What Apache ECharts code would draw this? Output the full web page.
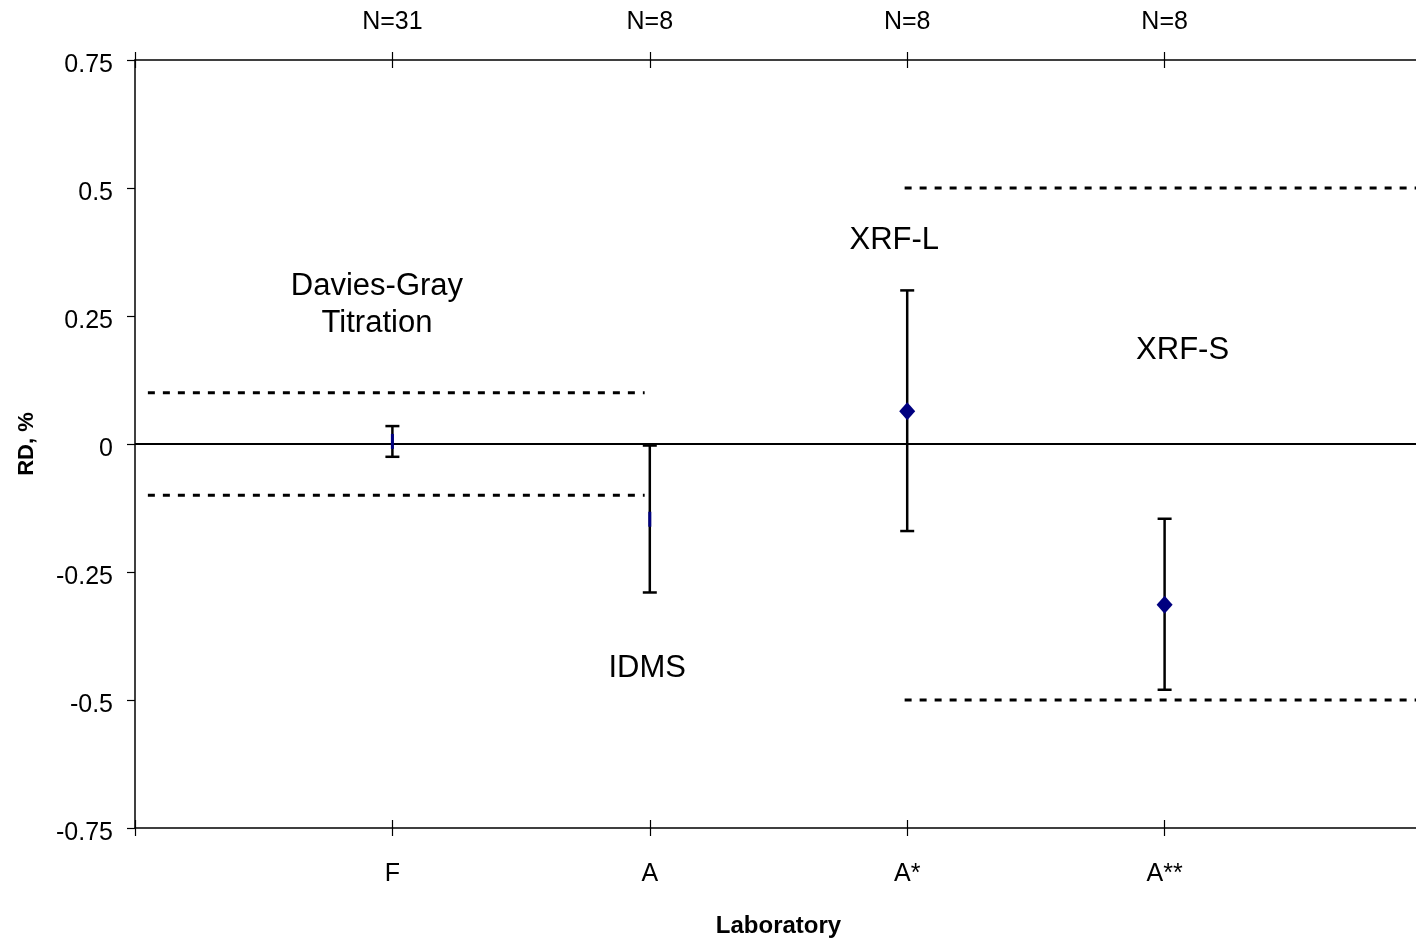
<!DOCTYPE html>
<html>
<head>
<meta charset="utf-8">
<title>RD by laboratory</title>
<script src="https://cdn.jsdelivr.net/npm/echarts@6/dist/echarts.min.js"></script>
<style>
  html, body { margin: 0; padding: 0; background: #ffffff; overflow: hidden; }
  #frame { width: 1416px; height: 943px; overflow: hidden; position: relative; }
  /* the plot runs a little past the right edge of the frame */
  #chart { width: 1425px; height: 943px; position: absolute; left: 0; top: 0; }
</style>
</head>
<body>
<div id="frame"><div id="chart"></div></div>
<script>
// Laboratories, their position on the x scale and the number of results behind each
const labs = ['F', 'A', 'A*', 'A**'];
const labPos = [1, 2, 3, 4];
const counts = ['N=31', 'N=8', 'N=8', 'N=8'];

// Mean relative difference (%) and the ends of its uncertainty bar
const meanRD = [0.005, -0.147, 0.064, -0.314];
const barLow = [-0.025, -0.29, -0.17, -0.48];
const barHigh = [0.035, -0.003, 0.30, -0.146];

// Acceptance limits (%) drawn as dashed lines over a span of the x scale
const limitTight = 0.1;
const limitTightSpan = [0.05, 1.98];
const limitWide = 0.5;
const limitWideSpan = [2.99, 5];

// Method names placed in data coordinates
const methodNames = ['Davies-Gray\nTitration', 'IDMS', 'XRF-L', 'XRF-S'];
const methodAt = [[0.94, 0.272], [1.99, -0.439], [2.95, 0.398], [4.07, 0.182]];

// Y scale ticks
const yMin = -0.75, yMax = 0.75, yStep = 0.25;

const FONT = "'Liberation Sans', Arial, Helvetica, sans-serif";

const chart = echarts.init(document.getElementById('chart'), null, { renderer: 'canvas' });

function labName(v) {
  const i = labPos.indexOf(Math.round(v));
  return i >= 0 && Math.abs(v - labPos[i]) < 1e-6 ? labs[i] : '';
}
function labCount(v) {
  const i = labPos.indexOf(Math.round(v));
  return i >= 0 && Math.abs(v - labPos[i]) < 1e-6 ? counts[i] : '';
}

const axisBase = {
  type: 'value', min: 0, max: 5, interval: 1,
  splitLine: { show: false }
};

const lineStyleAxis = { color: '#000', width: 1.5 };
const tickStyle = { color: '#000', width: 1.2 };
const dashed = { color: '#000', width: 3, type: [7, 8] };

chart.setOption({
  animation: false,
  backgroundColor: '#ffffff',
  grid: { left: 135, right: 0, top: 60, bottom: 113, containLabel: false },
  xAxis: [
    Object.assign({}, axisBase, {
      position: 'bottom',
      axisLine: { show: true, onZero: false, lineStyle: lineStyleAxis },
      axisTick: { show: true, inside: false, length: 8, lineStyle: tickStyle },
      axisLabel: { show: true, margin: 34, color: '#000', fontFamily: FONT, fontSize: 25, formatter: labName },
      name: 'Laboratory', nameLocation: 'middle', nameGap: 86,
      nameTextStyle: { color: '#000', fontFamily: FONT, fontSize: 24, fontWeight: 'bold' }
    }),
    Object.assign({}, axisBase, {
      position: 'bottom',
      axisLine: { show: false, onZero: false },
      axisTick: { show: true, inside: true, length: 8, lineStyle: tickStyle },
      axisLabel: { show: false }
    }),
    Object.assign({}, axisBase, {
      position: 'top',
      axisLine: { show: true, onZero: false, lineStyle: lineStyleAxis },
      axisTick: { show: true, inside: false, length: 8, lineStyle: tickStyle },
      axisLabel: { show: true, margin: 25, color: '#000', fontFamily: FONT, fontSize: 25, formatter: labCount }
    }),
    Object.assign({}, axisBase, {
      position: 'top',
      axisLine: { show: false, onZero: false },
      axisTick: { show: true, inside: true, length: 8, lineStyle: tickStyle },
      axisLabel: { show: false }
    })
  ],
  yAxis: {
    type: 'value', min: yMin, max: yMax, interval: yStep,
    axisLine: { show: true, onZero: false, lineStyle: lineStyleAxis },
    axisTick: { show: true, inside: false, length: 8, lineStyle: tickStyle },
    axisLabel: {
      show: true, margin: 22, color: '#000', fontFamily: FONT, fontSize: 25,
      verticalAlign: 'top', lineHeight: 10
    },
    splitLine: { show: false },
    name: 'RD, %', nameLocation: 'middle', nameGap: 97, nameRotate: 90,
    nameTextStyle: { color: '#000', fontFamily: FONT, fontSize: 22, fontWeight: 'bold' }
  },
  series: [
    // zero reference
    {
      type: 'line', xAxisIndex: 0, symbol: 'none', silent: true,
      lineStyle: { color: '#000', width: 2.2 },
      data: [[0, 0], [5, 0]], z: 2
    },
    // tight limits
    {
      type: 'line', xAxisIndex: 0, symbol: 'none', silent: true, lineStyle: dashed, z: 2,
      data: [[limitTightSpan[0], limitTight], [limitTightSpan[1], limitTight]]
    },
    {
      type: 'line', xAxisIndex: 0, symbol: 'none', silent: true, lineStyle: dashed, z: 2,
      data: [[limitTightSpan[0], -limitTight], [limitTightSpan[1], -limitTight]]
    },
    // wide limits
    {
      type: 'line', xAxisIndex: 0, symbol: 'none', silent: true, lineStyle: dashed, z: 2,
      data: [[limitWideSpan[0], limitWide], [limitWideSpan[1], limitWide]]
    },
    {
      type: 'line', xAxisIndex: 0, symbol: 'none', silent: true, lineStyle: dashed, z: 2,
      data: [[limitWideSpan[0], -limitWide], [limitWideSpan[1], -limitWide]]
    },
    // uncertainty bars
    {
      type: 'custom', xAxisIndex: 0, silent: true, z: 3,
      data: labPos.map((x, i) => [x, barLow[i], barHigh[i]]),
      encode: { x: 0, y: [1, 2] },
      renderItem: function (params, api) {
        const lo = api.coord([api.value(0), api.value(1)]);
        const hi = api.coord([api.value(0), api.value(2)]);
        const half = 7;
        const style = { stroke: '#000', lineWidth: 2.5 };
        return {
          type: 'group',
          children: [
            { type: 'line', shape: { x1: lo[0], y1: lo[1], x2: hi[0], y2: hi[1] }, style: style },
            { type: 'line', shape: { x1: lo[0] - half, y1: lo[1], x2: lo[0] + half, y2: lo[1] }, style: style },
            { type: 'line', shape: { x1: hi[0] - half, y1: hi[1], x2: hi[0] + half, y2: hi[1] }, style: style }
          ]
        };
      }
    },
    // means
    {
      type: 'scatter', xAxisIndex: 0, silent: true, z: 4,
      itemStyle: { color: '#000080', opacity: 1 },
      data: labPos.map((x, i) => {
        const narrow = Math.abs(barHigh[i] - barLow[i]) < 0.3;
        return narrow
          ? { value: [x, meanRD[i]], symbol: 'rect', symbolSize: [3, 15] }
          : { value: [x, meanRD[i]], symbol: 'diamond', symbolSize: [16, 18] };
      })
    },
    // method names
    {
      type: 'scatter', xAxisIndex: 0, silent: true, z: 5,
      symbolSize: 0,
      itemStyle: { opacity: 1 },
      data: methodAt.map((p, i) => ({ value: p, name: methodNames[i] })),
      label: {
        show: true, position: 'inside', formatter: '{b}',
        color: '#000', fontFamily: FONT, fontSize: 31, lineHeight: 37, align: 'center'
      }
    }
  ]
});
</script>
</body>
</html>
